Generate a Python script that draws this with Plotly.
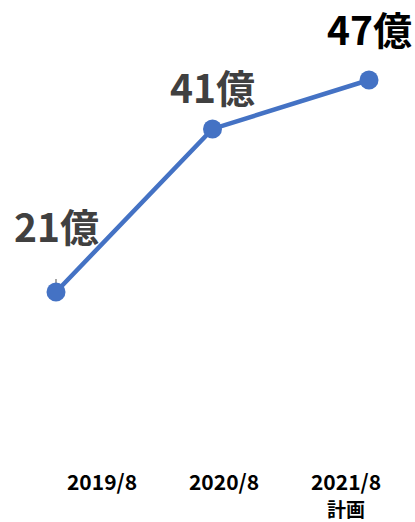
import plotly.graph_objects as go

# Revenue by fiscal period (億円)
periods = ["2019/8", "2020/8", "2021/8"]
plan_note = "計画"
values = [21, 41, 47]
value_labels = ["21億", "41億", "47億"]
label_colors = ["#404040", "#404040", "#000000"]
label_shift = [67, 43, 52]

LINE_BLUE = "#4472C4"
FONT = "Noto Sans CJK JP, Noto Sans, sans-serif"

idx = list(range(len(values)))

fig = go.Figure()

# Leader line on the first data label
fig.add_trace(go.Scatter(
    x=[idx[0], idx[0]], y=[values[0], values[0] + 1.6],
    mode="lines", line=dict(color="#A6A6A6", width=2),
    hoverinfo="skip", showlegend=False,
))

fig.add_trace(go.Scatter(
    x=idx, y=values, mode="lines+markers",
    line=dict(color=LINE_BLUE, width=4.5),
    marker=dict(color=LINE_BLUE, size=19),
    cliponaxis=False, showlegend=False,
))

# Invisible trace to carry the category labels on the secondary x axis
fig.add_trace(go.Scatter(
    x=periods, y=[None] * len(periods), xaxis="x2",
    mode="markers", showlegend=False, hoverinfo="skip",
))

for i, v, t, c, s in zip(idx, values, value_labels, label_colors, label_shift):
    fig.add_annotation(
        x=i, y=v, text=f"<b>{t}</b>", showarrow=False,
        yshift=s, font=dict(family=FONT, size=39, color=c),
    )

# "Plan" note under the last period label
fig.add_annotation(
    x=periods[-1], xref="x2", y=0, yref="paper", yshift=-46,
    text=f"<b>{plan_note}</b>", showarrow=False, yanchor="middle",
    borderpad=0, font=dict(family=FONT, size=19, color="#000000"),
)

px_per_unit = 156.5
fig.update_layout(
    width=415, height=522,
    margin=dict(l=0, r=0, t=0, b=60),
    paper_bgcolor="white", plot_bgcolor="white",
    xaxis=dict(range=[-56 / px_per_unit, (415 - 56) / px_per_unit],
               visible=False, showgrid=False, zeroline=False),
    xaxis2=dict(type="category", overlaying="x", side="bottom", anchor="y",
                range=[-102 / 122, (415 - 102) / 122],
                showgrid=False, zeroline=False, showline=False, ticks="",
                tickfont=dict(family=FONT, size=21, color="#000000",
                              weight="bold"),
                ticklabelstandoff=6),
    yaxis=dict(range=[0.15, 56.81], visible=False,
               showgrid=False, zeroline=False),
    font=dict(family=FONT),
)

fig.write_html("out.html")
